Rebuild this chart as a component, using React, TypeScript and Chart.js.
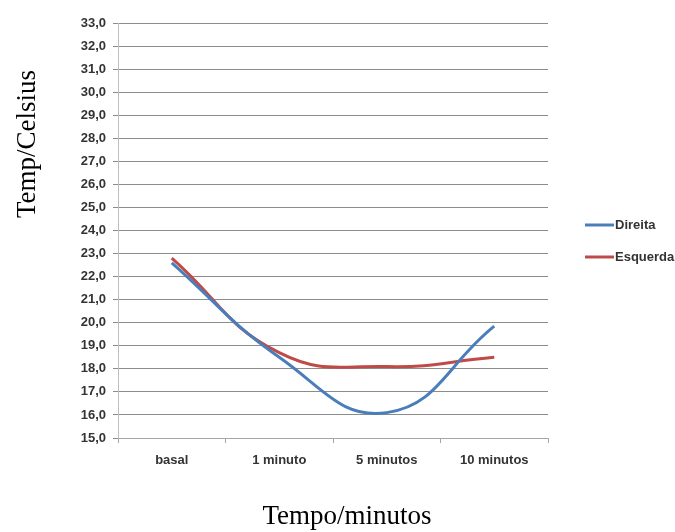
import React, { useEffect, useRef } from "react";
import { Chart, registerables } from "chart.js";

Chart.register(...registerables);

const categories = ["basal", "1 minuto", "5 minutos", "10 minutos"];
const direita = [22.6, 18.5, 16.1, 19.85];
const esquerda = [22.8, 18.7, 18.1, 18.5];
const seriesNames = ["Direita", "Esquerda"];
const seriesColors = ["#4a7ebb", "#be4b48"];
const yMin = 15;
const yMax = 33;
const yStep = 1;
const yTitle = "Temp/Celsius";
const xTitle = "Tempo/minutos";

const tickFont = { family: "'Liberation Sans', Arial, sans-serif", size: 13, weight: "bold" as const };

export default function App() {
  const ref = useRef<HTMLCanvasElement | null>(null);

  useEffect(() => {
    if (!ref.current) return;
    const extras = {
      id: "extras",
      afterDraw(chart: any) {
        const ctx = chart.ctx;
        const area = chart.chartArea;
        ctx.save();
        // axis titles
        ctx.fillStyle = "#000";
        ctx.font = "27px 'Liberation Serif', 'Times New Roman', serif";
        ctx.textAlign = "center";
        ctx.textBaseline = "middle";
        ctx.fillText(xTitle, 347, 517);
        ctx.save();
        ctx.translate(28, 144);
        ctx.rotate(-Math.PI / 2);
        ctx.fillText(yTitle, 0, 0);
        ctx.restore();
        // legend
        const lx = area.right + 37;
        const ys = [225, 257];
        chart.data.datasets.forEach((ds: any, i: number) => {
          ctx.strokeStyle = ds.borderColor;
          ctx.lineWidth = 3;
          ctx.beginPath();
          ctx.moveTo(lx, ys[i]);
          ctx.lineTo(lx + 29, ys[i]);
          ctx.stroke();
          ctx.fillStyle = "#333";
          ctx.font = "bold 13px 'Liberation Sans', Arial, sans-serif";
          ctx.textAlign = "left";
          ctx.fillText(ds.label, lx + 30, ys[i]);
        });
        ctx.restore();
      },
    };

    const chart = new Chart(ref.current, {
      type: "line",
      data: {
        labels: categories,
        datasets: [
          {
            label: seriesNames[0],
            data: direita,
            borderColor: seriesColors[0],
            backgroundColor: seriesColors[0],
            borderWidth: 3,
            pointRadius: 0,
            tension: 0.45,
          },
          {
            label: seriesNames[1],
            data: esquerda,
            borderColor: seriesColors[1],
            backgroundColor: seriesColors[1],
            borderWidth: 3,
            pointRadius: 0,
            tension: 0.45,
          },
        ],
      },
      options: {
        animation: false,
        responsive: false,
        devicePixelRatio: 1,
        layout: { padding: { left: 0, right: 127, top: 23, bottom: 54 } },
        plugins: { legend: { display: false }, tooltip: { enabled: false } },
        scales: {
          x: {
            offset: true,
            grid: {
              offset: true,
              drawOnChartArea: false,
              drawTicks: true,
              tickLength: 5,
              color: "#a6a6a6",
            },
            border: { color: "#a6a6a6", width: 1 },
            ticks: { color: "#333", font: tickFont, padding: 10, maxRotation: 0 },
            afterFit(scale: any) {
              scale.height = 40;
            },
          },
          y: {
            min: yMin,
            max: yMax,
            grid: { color: "#8c8c8c", tickLength: 5, lineWidth: 1 },
            border: { color: "#bfbfbf", width: 1 },
            ticks: {
              stepSize: yStep,
              color: "#333",
              font: tickFont,
              padding: 7,
              callback: (v: any) => Number(v).toFixed(1).replace(".", ","),
            },
            afterFit(scale: any) {
              scale.width = 118;
            },
          },
        },
      },
      plugins: [extras],
    });
    return () => chart.destroy();
  }, []);

  return (
    <div style={{ position: "fixed", left: 0, top: 0, width: 675, height: 532, background: "#fff" }}>
      <canvas ref={ref} width={675} height={532} style={{ width: 675, height: 532 }} />
    </div>
  );
}
